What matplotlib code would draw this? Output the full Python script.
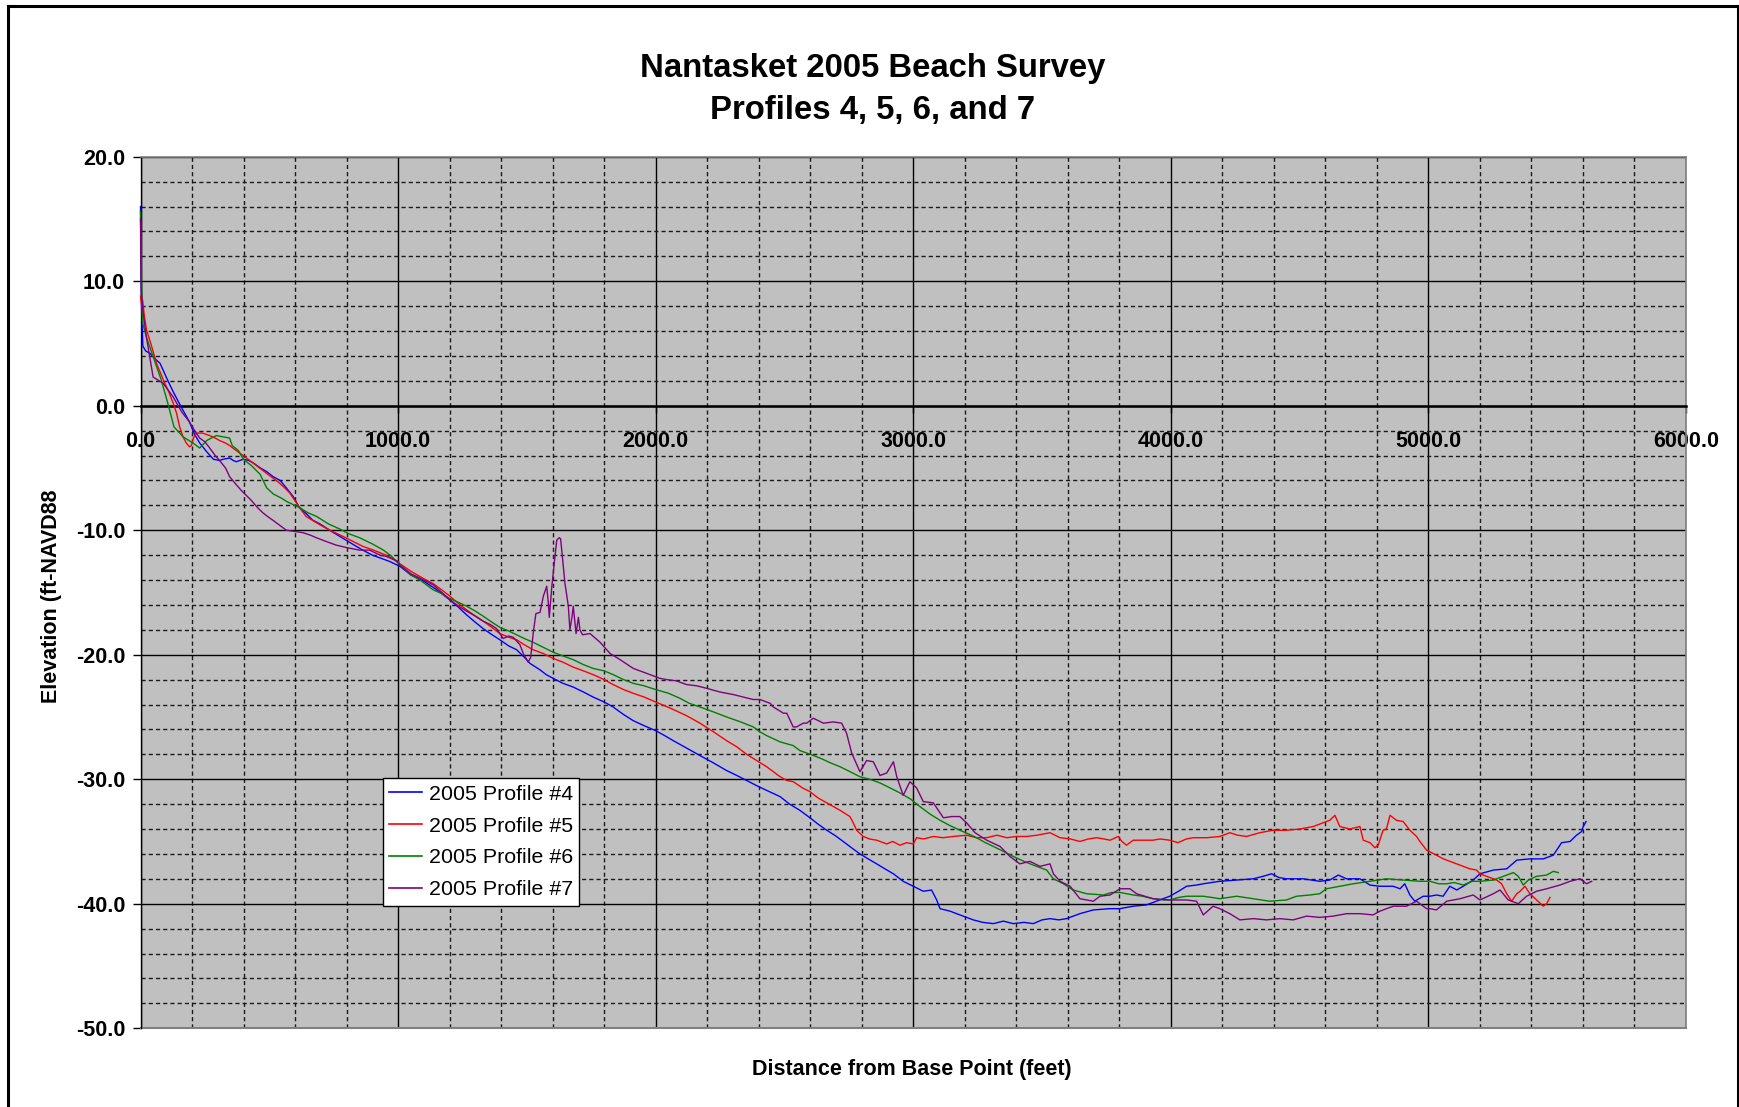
import matplotlib

matplotlib.use("Agg")
import matplotlib.pyplot as plt
from matplotlib.lines import Line2D
from matplotlib.ticker import MultipleLocator, FormatStrFormatter

plt.rcParams["font.family"] = ["Liberation Sans", "DejaVu Sans"]
plt.rcParams["lines.scale_dashes"] = False

# --- survey profiles: distance from base point (ft) / elevation (ft NAVD88) ---
dist_p4 = [0, 2, 4, 7, 9, 20, 37, 60, 76, 102, 125, 140, 166, 190, 210, 230, 257, 283, 307, 321,
           346, 360, 372, 399, 420, 438, 465, 490, 515, 542, 566, 593, 617, 645, 669, 697, 734, 766,
           798, 830, 863, 900, 940, 966, 1007, 1050, 1100, 1137, 1170, 1201, 1235, 1266, 1300, 1330,
           1365, 1395, 1430, 1460, 1490, 1512, 1550, 1575, 1602, 1640, 1680, 1720, 1757, 1800, 1835,
           1875, 1913, 1955, 2000, 2035, 2068, 2120, 2172, 2225, 2275, 2315, 2353, 2400, 2431, 2483,
           2520, 2560, 2599, 2630, 2664, 2695, 2728, 2760, 2793, 2825, 2858, 2890, 2923, 2961, 3000,
           3039, 3071, 3091, 3104, 3143, 3181, 3233, 3270, 3311, 3350, 3388, 3430, 3466, 3500, 3531,
           3565, 3595, 3647, 3699, 3764, 3802, 3854, 3905, 3944, 3996, 4030, 4061, 4100, 4126, 4190,
           4255, 4320, 4358, 4391, 4420, 4449, 4514, 4578, 4617, 4650, 4682, 4734, 4773, 4811, 4863,
           4890, 4908, 4928, 4947, 4980, 5006, 5031, 5057, 5083, 5110, 5135, 5174, 5200, 5252, 5304,
           5343, 5394, 5446, 5485, 5517, 5550, 5575, 5595, 5601, 5612]
elev_p4 = [16.0, 11.0, 8.0, 6.0, 4.8, 4.4, 4.2, 3.7, 3.4, 2.2, 1.2, 0.6, -0.4, -1.3, -2.3, -3.0, -3.7,
           -4.3, -4.4, -4.3, -4.2, -4.4, -4.5, -4.3, -4.4, -4.6, -5.0, -5.3, -5.7, -6.0, -6.6, -7.3,
           -8.2, -8.7, -9.2, -9.5, -10.0, -10.4, -10.8, -11.2, -11.6, -12.0, -12.3, -12.5, -12.9,
           -13.6, -14.1, -14.6, -15.1, -15.6, -16.2, -16.8, -17.4, -17.9, -18.4, -18.8, -19.3, -19.6,
           -20.2, -20.7, -21.2, -21.6, -21.9, -22.3, -22.6, -23.0, -23.4, -23.8, -24.2, -24.8, -25.3,
           -25.7, -26.1, -26.5, -26.9, -27.5, -28.1, -28.7, -29.3, -29.7, -30.1, -30.6, -30.9, -31.4,
           -32.0, -32.5, -33.1, -33.6, -34.1, -34.5, -35.0, -35.5, -36.0, -36.4, -36.8, -37.2, -37.6,
           -38.2, -38.6, -39.0, -38.9, -39.7, -40.4, -40.6, -40.9, -41.3, -41.5, -41.6, -41.4, -41.6,
           -41.5, -41.6, -41.3, -41.2, -41.3, -41.2, -40.8, -40.5, -40.4, -40.4, -40.2, -40.1, -39.8,
           -39.4, -39.0, -38.6, -38.5, -38.4, -38.2, -38.1, -38.0, -37.8, -37.6, -37.9, -38.0, -38.0,
           -38.2, -38.1, -37.7, -38.0, -38.0, -38.5, -38.6, -38.6, -38.8, -38.4, -39.3, -39.8, -39.4,
           -39.4, -39.3, -39.4, -38.6, -38.9, -38.6, -38.1, -37.6, -37.3, -37.2, -36.5, -36.4, -36.4,
           -36.1, -35.1, -35.0, -34.5, -34.2, -33.8, -33.4]

dist_p5 = [0, 5, 8, 15, 23, 40, 62, 88, 110, 127, 140, 152, 165, 178, 190, 198, 205, 217, 240, 269,
           290, 307, 330, 346, 365, 385, 405, 424, 450, 475, 500, 527, 555, 579, 592, 605, 625, 643,
           675, 708, 745, 786, 825, 863, 905, 953, 980, 1007, 1050, 1100, 1137, 1170, 1201, 1235,
           1266, 1300, 1344, 1370, 1395, 1430, 1460, 1490, 1524, 1563, 1602, 1640, 1680, 1720, 1757,
           1800, 1835, 1875, 1913, 1955, 2000, 2035, 2068, 2120, 2172, 2225, 2275, 2315, 2353, 2400,
           2431, 2483, 2509, 2534, 2570, 2599, 2630, 2664, 2690, 2716, 2754, 2767, 2780, 2806, 2830,
           2858, 2897, 2920, 2948, 2975, 3000, 3013, 3040, 3078, 3115, 3155, 3207, 3245, 3285, 3325,
           3363, 3400, 3440, 3480, 3531, 3570, 3610, 3647, 3680, 3712, 3740, 3764, 3796, 3810, 3828,
           3854, 3893, 3931, 3958, 3996, 4028, 4060, 4087, 4140, 4190, 4229, 4260, 4294, 4345, 4397,
           4449, 4501, 4553, 4591, 4617, 4637, 4656, 4695, 4734, 4747, 4773, 4792, 4805, 4824, 4837,
           4851, 4876, 4902, 4928, 4954, 4967, 4993, 5031, 5058, 5084, 5123, 5161, 5187, 5200, 5226,
           5265, 5284, 5304, 5323, 5343, 5356, 5375, 5394, 5420, 5446, 5459, 5472]
elev_p5 = [8.8, 8.0, 8.5, 7.2, 6.1, 5.0, 3.4, 2.1, 1.1, 0.2, -0.6, -1.7, -2.5, -3.0, -3.3, -3.2,
           -2.6, -2.2, -2.2, -2.4, -2.6, -2.8, -3.0, -3.2, -3.5, -3.8, -4.1, -4.4, -4.8, -5.2, -5.6,
           -6.0, -6.5, -7.0, -7.4, -7.8, -8.4, -8.9, -9.3, -9.7, -10.1, -10.5, -10.9, -11.3, -11.6,
           -12.0, -12.3, -12.7, -13.3, -13.9, -14.3, -14.8, -15.3, -15.9, -16.4, -16.9, -17.5, -17.9,
           -18.3, -18.6, -18.8, -19.2, -19.6, -19.9, -20.3, -20.6, -21.0, -21.3, -21.6, -22.0, -22.4,
           -22.8, -23.1, -23.4, -23.8, -24.1, -24.4, -24.9, -25.5, -26.2, -26.9, -27.4, -28.0, -28.6,
           -29.0, -29.8, -30.1, -30.2, -30.7, -31.0, -31.5, -31.9, -32.2, -32.5, -33.0, -33.5, -34.1,
           -34.6, -34.8, -34.9, -35.2, -35.0, -35.3, -35.1, -35.2, -34.7, -34.8, -34.6, -34.7, -34.6,
           -34.5, -34.7, -34.7, -34.5, -34.7, -34.6, -34.6, -34.5, -34.3, -34.7, -34.8, -35.0, -34.8,
           -34.7, -34.8, -34.9, -34.6, -35.0, -35.3, -34.9, -34.9, -34.9, -34.8, -34.9, -35.1, -34.8,
           -34.7, -34.7, -34.6, -34.3, -34.5, -34.6, -34.3, -34.1, -34.1, -34.0, -33.8, -33.5, -33.3,
           -32.9, -33.8, -34.0, -33.8, -34.9, -35.1, -35.5, -35.3, -34.1, -34.0, -32.9, -33.3, -33.4,
           -34.1, -34.6, -35.0, -35.7, -36.1, -36.4, -36.6, -36.9, -37.2, -37.3, -37.6, -37.8, -38.1,
           -38.4, -39.2, -39.8, -39.2, -39.0, -38.6, -39.2, -39.7, -40.2, -40.0, -39.5]

dist_p6 = [0, 2, 4, 6, 10, 23, 50, 80, 106, 130, 165, 204, 230, 257, 275, 295, 320, 346, 356, 380,
           399, 430, 464, 490, 516, 545, 568, 619, 650, 684, 730, 773, 810, 850, 900, 943, 975, 1007,
           1050, 1085, 1137, 1170, 1201, 1235, 1266, 1300, 1330, 1365, 1395, 1430, 1460, 1490, 1524,
           1563, 1602, 1640, 1680, 1720, 1757, 1800, 1835, 1875, 1913, 1955, 2000, 2050, 2094, 2130,
           2172, 2225, 2275, 2330, 2379, 2405, 2431, 2483, 2534, 2560, 2600, 2638, 2680, 2716, 2755,
           2793, 2830, 2871, 2910, 2948, 2990, 3026, 3065, 3104, 3140, 3181, 3215, 3246, 3280, 3311,
           3350, 3388, 3430, 3466, 3518, 3544, 3583, 3621, 3673, 3738, 3770, 3803, 3854, 3890, 3931,
           3971, 3996, 4030, 4061, 4126, 4160, 4190, 4255, 4320, 4384, 4449, 4488, 4540, 4578, 4604,
           4656, 4708, 4773, 4837, 4902, 4967, 5006, 5040, 5071, 5100, 5135, 5170, 5200, 5252, 5304,
           5330, 5349, 5368, 5388, 5420, 5459, 5485, 5504]
elev_p6 = [15.6, 12.8, 10.0, 8.0, 6.5, 5.5, 3.9, 2.1, 0.2, -1.7, -2.5, -3.0, -3.4, -2.8, -2.6, -2.4,
           -2.5, -2.6, -3.2, -3.6, -4.3, -4.8, -5.5, -6.6, -7.1, -7.4, -7.7, -8.2, -8.6, -8.9, -9.5,
           -9.9, -10.3, -10.6, -11.1, -11.6, -12.1, -12.8, -13.6, -14.0, -14.8, -15.1, -15.5, -15.8,
           -16.1, -16.5, -16.9, -17.4, -17.8, -18.1, -18.4, -18.7, -19.0, -19.4, -19.8, -20.1, -20.4,
           -20.8, -21.1, -21.3, -21.6, -22.0, -22.3, -22.5, -22.8, -23.1, -23.5, -23.9, -24.2, -24.6,
           -25.0, -25.4, -25.8, -26.2, -26.5, -27.0, -27.3, -27.7, -28.0, -28.3, -28.7, -29.0, -29.4,
           -29.8, -30.0, -30.3, -30.7, -31.1, -31.6, -32.2, -32.8, -33.3, -33.7, -34.1, -34.4, -34.7,
           -35.1, -35.4, -35.8, -36.2, -36.6, -36.9, -37.3, -38.0, -38.4, -38.9, -39.2, -39.3, -39.1,
           -39.1, -39.3, -39.4, -39.6, -39.7, -39.7, -39.5, -39.4, -39.4, -39.5, -39.6, -39.4, -39.6,
           -39.8, -39.7, -39.4, -39.3, -39.2, -38.8, -38.6, -38.4, -38.2, -38.0, -38.1, -38.2, -38.2,
           -38.4, -38.4, -38.3, -38.5, -38.2, -38.2, -38.1, -37.7, -37.5, -37.8, -38.5, -38.1, -37.8,
           -37.7, -37.4, -37.5]

dist_p7 = [0, 1, 3, 6, 10, 23, 35, 49, 88, 127, 160, 190, 210, 230, 250, 265, 290, 307, 330, 346,
           370, 391, 415, 430, 455, 475, 500, 514, 540, 566, 600, 631, 660, 682, 720, 760, 801, 850,
           889, 930, 953, 1000, 1007, 1050, 1100, 1137, 1170, 1201, 1235, 1266, 1300, 1330, 1360,
           1382, 1408, 1430, 1447, 1460, 1473, 1486, 1505, 1515, 1525, 1535, 1551, 1564, 1577, 1583,
           1587, 1597, 1606, 1616, 1626, 1631, 1639, 1648, 1661, 1667, 1675, 1680, 1691, 1700, 1706,
           1716, 1745, 1784, 1823, 1862, 1913, 1965, 2017, 2043, 2080, 2120, 2160, 2198, 2250, 2301,
           2340, 2379, 2405, 2444, 2457, 2496, 2509, 2534, 2547, 2573, 2586, 2612, 2651, 2690, 2722,
           2741, 2761, 2793, 2819, 2845, 2871, 2897, 2923, 2936, 2961, 2987, 3013, 3039, 3078, 3117,
           3149, 3181, 3207, 3240, 3285, 3337, 3375, 3414, 3453, 3492, 3531, 3544, 3570, 3609, 3647,
           3699, 3725, 3764, 3803, 3841, 3867, 3931, 3996, 4061, 4100, 4126, 4164, 4190, 4229, 4268,
           4320, 4371, 4423, 4475, 4527, 4578, 4630, 4682, 4734, 4785, 4812, 4837, 4864, 4915, 4954,
           4993, 5006, 5031, 5071, 5123, 5174, 5200, 5252, 5278, 5310, 5349, 5381, 5420, 5459, 5511,
           5550, 5588, 5614, 5634]
elev_p7 = [15.0, 12.0, 9.0, 8.5, 7.5, 5.5, 4.0, 2.3, 1.8, 0.7, -0.5, -1.3, -2.0, -2.6, -2.9, -3.3,
           -4.0, -4.4, -5.0, -5.7, -6.3, -6.8, -7.3, -7.6, -8.2, -8.6, -9.0, -9.2, -9.6, -10.0,
           -10.1, -10.2, -10.4, -10.6, -10.9, -11.2, -11.4, -11.6, -11.6, -12.0, -12.1, -12.5,
           -12.8, -13.5, -14.0, -14.4, -15.0, -15.6, -16.1, -16.5, -16.9, -17.3, -17.6, -17.9,
           -18.7, -18.5, -18.6, -18.9, -19.2, -19.9, -20.6, -20.2, -18.2, -16.7, -16.6, -15.3,
           -14.5, -15.8, -17.0, -14.5, -12.7, -10.8, -10.6, -10.7, -12.4, -14.3, -16.1, -18.0,
           -17.0, -16.1, -18.3, -17.0, -18.0, -18.4, -18.3, -19.0, -19.9, -20.4, -21.1, -21.5,
           -21.9, -22.0, -22.1, -22.4, -22.5, -22.7, -23.0, -23.2, -23.4, -23.6, -23.6, -23.9,
           -24.2, -24.7, -24.7, -25.8, -25.8, -25.5, -25.5, -25.1, -25.5, -25.4, -25.5, -26.3,
           -27.9, -29.4, -28.5, -28.6, -29.7, -29.5, -28.6, -29.8, -31.3, -30.2, -30.7, -31.8,
           -31.9, -33.1, -33.0, -33.0, -33.5, -34.3, -34.9, -35.4, -36.2, -36.8, -36.6, -37.0,
           -36.8, -37.6, -38.2, -38.6, -39.6, -39.8, -39.4, -39.3, -38.8, -38.8, -39.2, -39.6,
           -39.7, -39.7, -39.8, -40.9, -40.2, -40.4, -40.8, -41.3, -41.2, -41.3, -41.2, -41.3,
           -41.0, -41.1, -41.0, -40.8, -40.8, -40.9, -40.6, -40.4, -40.2, -40.2, -39.8, -40.4,
           -40.4, -40.5, -39.8, -39.6, -39.3, -39.7, -39.2, -38.9, -39.7, -40.0, -39.4, -39.0,
           -38.8, -38.5, -38.2, -38.0, -38.4, -38.2]

profile_labels = ["2005 Profile #4", "2005 Profile #5", "2005 Profile #6", "2005 Profile #7"]
profile_colors = ["#0000FF", "#FF0000", "#008000", "#800080"]

W, H = 1739, 1107
fig = plt.figure(figsize=(W / 100, H / 100), dpi=100)

# plot area in pixels: x 140.5..1686, y 156.7..1028.2 (from top)
left, right, top, bottom = 140.5, 1686.0, 156.7, 1028.2
ax = fig.add_axes([left / W, 1 - bottom / H, (right - left) / W, (bottom - top) / H])
ax.set_facecolor("#C0C0C0")

series = [(dist_p4, elev_p4), (dist_p5, elev_p5), (dist_p6, elev_p6), (dist_p7, elev_p7)]
for (d, e), lab, col in zip(series, profile_labels, profile_colors):
    # all points lie inside the limits; unclipped so the x=0 drop shows over the axis
    ax.plot(d, e, color=col, lw=1.0, label=lab, zorder=3, clip_on=False)

ax.set_xlim(0, 6000)
ax.set_ylim(-50, 20)
ax.xaxis.set_major_locator(MultipleLocator(1000))
ax.xaxis.set_minor_locator(MultipleLocator(200))
ax.yaxis.set_major_locator(MultipleLocator(10))
ax.yaxis.set_minor_locator(MultipleLocator(2))
ax.xaxis.set_major_formatter(FormatStrFormatter("%.1f"))
ax.yaxis.set_major_formatter(FormatStrFormatter("%.1f"))

ax.grid(which="major", color="black", lw=1.0, ls="-", zorder=1)
ax.grid(which="minor", color="#1a1a1a", lw=1.0, ls=(0, (3.0, 2.2)), zorder=1)
ax.set_axisbelow(True)

# Excel-style frame: grey box, category axis crossing at zero
for side in ("top", "right"):
    ax.spines[side].set_color("#808080")
    ax.spines[side].set_linewidth(1.2)
ax.axhline(-50, color="#808080", lw=1.5, clip_on=False, zorder=2)
ax.spines["left"].set_color("black")
ax.spines["left"].set_linewidth(1.0)
ax.spines["bottom"].set_position(("data", 0))
ax.spines["bottom"].set_linewidth(1.8)
ax.spines["bottom"].set_zorder(2.5)

ax.tick_params(axis="y", which="major", direction="out", length=6, width=1, pad=5,
               labelsize=15.5)
ax.tick_params(axis="x", which="major", direction="out", length=5, width=1, pad=13,
               labelsize=15.5)
ax.tick_params(which="minor", length=0)
for lbl in ax.get_xticklabels() + ax.get_yticklabels():
    lbl.set_fontweight("bold")

leg = ax.legend(loc="upper left", bbox_to_anchor=((382.7 - left) / (right - left),
                                                  (bottom - 778.3) / (bottom - top)),
                borderaxespad=0, fontsize=15.4, frameon=True, fancybox=False,
                edgecolor="black", framealpha=1.0, borderpad=0.3, labelspacing=0.6,
                handlelength=1.55, handletextpad=0.3)
leg.get_frame().set_linewidth(1.0)
for h in leg.get_lines():
    h.set_linewidth(1.2)

fig.text(873 / W, 1 - 76.7 / H, "Nantasket 2005 Beach Survey", ha="center", va="baseline",
         fontsize=23.7, fontweight="bold")
fig.text(873 / W, 1 - 119.3 / H, "Profiles 4, 5, 6, and 7", ha="center", va="baseline",
         fontsize=23.7, fontweight="bold")
fig.text(52 / W, 1 - 596 / H, "Elevation (ft-NAVD88", rotation=90, ha="center", va="center",
         fontsize=15.5, fontweight="bold")
fig.text(912 / W, 1 - 1069 / H, "Distance from Base Point (feet)", ha="center", va="center",
         fontsize=15.5, fontweight="bold")

# chart border
border = dict(color="black", lw=2.2, transform=fig.transFigure, clip_on=False)
bx0, bx1, by1 = 7.8 / W, 1737.7 / W, 1 - 5.7 / H
fig.add_artist(Line2D([bx0, bx0], [-0.01, by1], **border))
fig.add_artist(Line2D([bx1, bx1], [-0.01, by1], **border))
fig.add_artist(Line2D([bx0, bx1], [by1, by1], **border))

fig.savefig("out.png", dpi=100)
